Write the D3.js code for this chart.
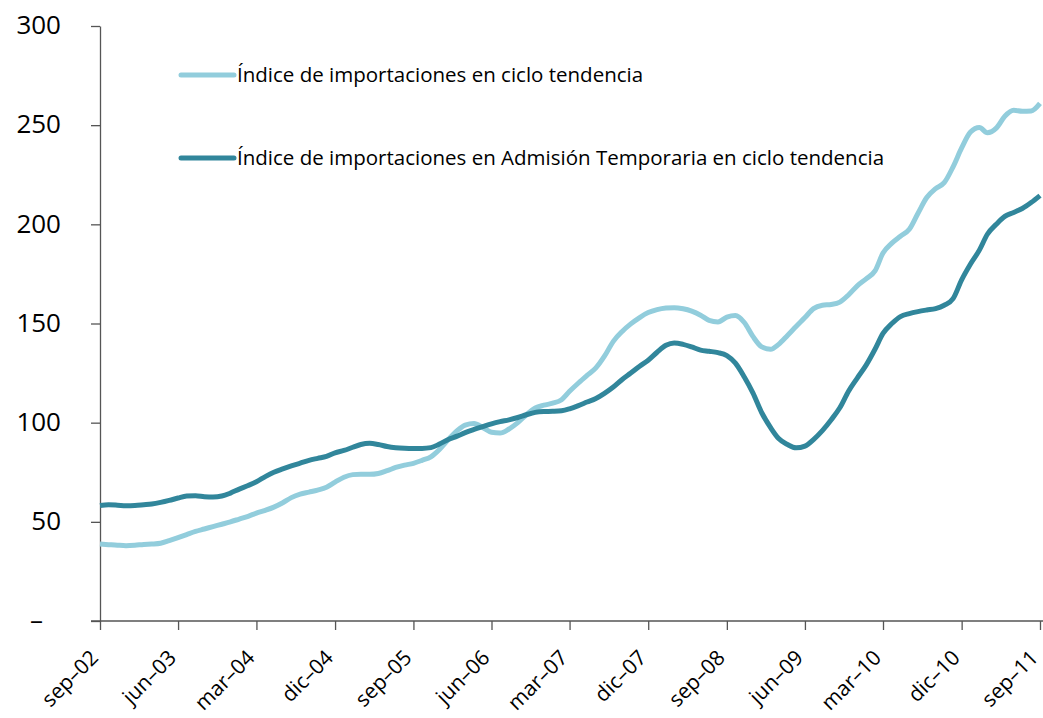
<!DOCTYPE html>
<html>
<head>
<meta charset="utf-8">
<script src="https://cdn.jsdelivr.net/npm/d3@7"></script>
<style>
  body { margin: 0; background: #fff; }
  svg { display: block; }
  text { font-family: "Open Sans", "Noto Sans", sans-serif; fill: #000; }
</style>
</head>
<body>
<div id="chart"></div>
<script>
// monthly series, sep-02 .. sep-11
const importIndex = [
  38.8, 38.5, 38.2, 38.0, 38.2, 38.6, 38.8, 39.2, 40.5, 42.0,
  43.6, 45.2, 46.4, 47.6, 48.8, 50.0, 51.4, 52.8, 54.4, 55.8,
  57.4, 59.6, 62.2, 64.0, 65.0, 66.0, 67.4, 70.0, 72.5, 73.8,
  74.0, 74.0, 74.4, 75.8, 77.4, 78.6, 79.5, 81.0, 82.8, 86.5,
  91.5, 96.0, 98.8, 99.6, 97.6, 95.2, 94.8, 96.8, 100.0, 104.0,
  107.4, 108.8, 109.8, 111.6, 115.8, 120.0, 123.8, 127.6, 133.5, 141.0,
  146.0, 149.8, 153.0, 155.5, 157.0, 157.8, 158.0, 157.4, 156.2, 154.2,
  151.6, 150.8, 153.2, 154.0, 150.5, 143.5, 138.2, 137.0, 139.5, 144.0,
  148.5, 153.0, 157.5, 159.2, 159.6, 160.8, 164.5, 169.0, 172.5, 176.5,
  185.5, 190.5, 194.0, 197.5, 205.5, 213.5, 218.0, 221.0, 229.0, 238.5,
  246.5, 248.8, 246.2, 248.5, 254.5, 257.5, 257.0, 257.2, 261.0
];

const temporaryIndex = [
  58.2, 58.6, 58.4, 58.1, 58.2, 58.6, 59.0, 59.8, 60.8, 62.0,
  63.0, 63.2, 62.7, 62.5, 63.0, 64.5, 66.5, 68.3, 70.2, 72.8,
  75.0, 76.7, 78.2, 79.6, 81.0, 82.0, 83.0, 84.8, 86.0, 87.6,
  89.0, 89.6, 89.0, 88.0, 87.4, 87.1, 87.0, 87.0, 87.4, 89.2,
  91.5, 93.2, 95.0, 96.6, 98.0, 99.4, 100.5, 101.4, 102.6, 104.0,
  105.2, 105.6, 105.7, 106.0, 107.0, 108.6, 110.4, 112.2, 114.8, 118.0,
  121.8, 125.0, 128.5, 131.5, 135.5, 139.0, 140.2, 139.5, 138.2, 136.6,
  136.0, 135.3, 133.8, 130.0, 123.0, 115.0, 105.0, 97.5, 92.0, 89.0,
  87.3, 88.2, 91.5, 96.0, 101.5, 107.5, 116.0, 122.5, 129.0, 137.0,
  145.0, 150.0, 153.5, 155.0, 156.0, 156.8, 157.5, 159.2, 162.5, 172.0,
  180.0, 187.0, 195.0, 200.0, 204.0, 206.0, 208.0, 211.0, 214.5
];

const seriesNames = [
  "Índice de importaciones en ciclo tendencia",
  "Índice de importaciones en Admisión Temporaria en ciclo tendencia"
];
const seriesColors = ["#92CDDC", "#31869B"];

const monthNames = ["ene", "feb", "mar", "abr", "may", "jun", "jul", "ago", "sep", "oct", "nov", "dic"];
const yTicks = [0, 50, 100, 150, 200, 250, 300];

const width = 1043, height = 718;

const dates = importIndex.map((_, i) => new Date(2002, 8 + i, 1));
const tickDates = dates.filter((_, i) => i % 9 === 0);

const x = d3.scaleTime()
  .domain([dates[0], dates[dates.length - 1]])
  .range([100, 1040]);

const y = d3.scaleLinear()
  .domain([0, 300])
  .range([621, 26]);

const svg = d3.select("#chart")
  .append("svg")
  .attr("width", width)
  .attr("height", height);

// y axis
const yAxis = svg.append("g")
  .attr("transform", "translate(100,0)")
  .call(d3.axisLeft(y)
    .tickValues(yTicks)
    .tickSize(9)
    .tickSizeOuter(0)
    .tickPadding(30)
    .tickFormat(d => d === 0 ? "–" : d));
yAxis.selectAll("line, path").attr("stroke", "#555").attr("stroke-width", 1.3);
yAxis.selectAll("text")
  .style("font-size", "26px")
  .attr("dy", "0.3em")
  .filter(d => d === 0)
  .attr("dx", "-18");

// x axis
const xAxis = svg.append("g")
  .attr("transform", "translate(0,621)")
  .call(d3.axisBottom(x)
    .tickValues(tickDates)
    .tickSize(9)
    .tickSizeOuter(0)
    .tickFormat(d => monthNames[d.getMonth()] + "–" + String(d.getFullYear()).slice(2)));
xAxis.select(".domain").attr("d", "M91,0H1043");
xAxis.selectAll("line, path").attr("stroke", "#555").attr("stroke-width", 1.3);
xAxis.selectAll("text")
  .style("font-size", "21px")
  .attr("text-anchor", "end")
  .attr("y", 0)
  .attr("dy", "0")
  .attr("transform", "translate(-1,38) rotate(-45)");

// lines
const line = d3.line()
  .x((d, i) => x(dates[i]))
  .y(d => y(d))
  .curve(d3.curveMonotoneX);

[importIndex, temporaryIndex].forEach((values, k) => {
  svg.append("path")
    .datum(values)
    .attr("fill", "none")
    .attr("stroke", seriesColors[k])
    .attr("stroke-width", 5)
    .attr("stroke-linejoin", "round")
    .attr("d", line);
});

// legend
const legend = svg.append("g");
seriesNames.forEach((name, k) => {
  const ly = [75, 158][k];
  legend.append("line")
    .attr("x1", 181).attr("x2", 234)
    .attr("y1", ly).attr("y2", ly)
    .attr("stroke", seriesColors[k])
    .attr("stroke-width", 5)
    .attr("stroke-linecap", "round");
  legend.append("text")
    .attr("x", 237)
    .attr("y", ly + 7)
    .style("font-size", "20.5px")
    .text(name);
});
</script>
</body>
</html>
